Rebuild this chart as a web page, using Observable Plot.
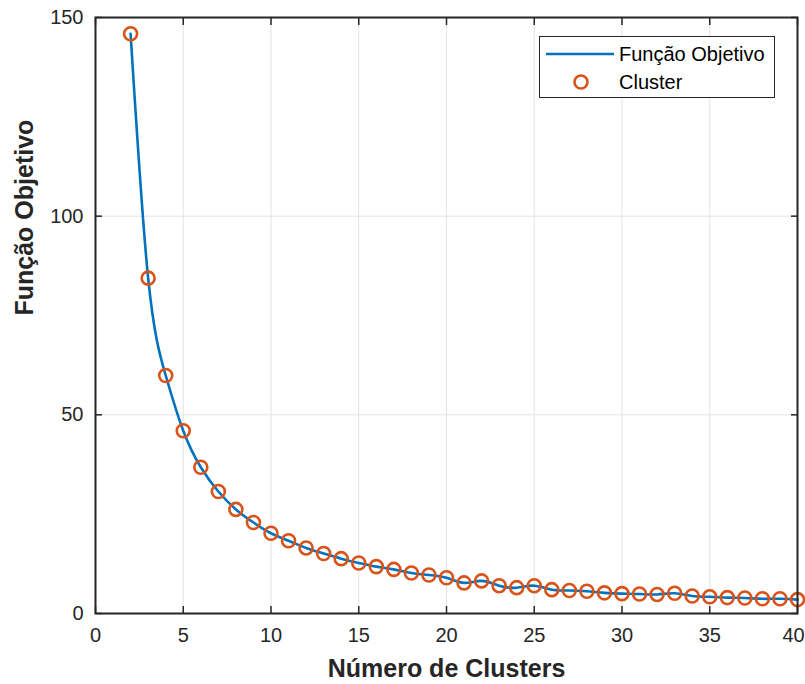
<!DOCTYPE html>
<html>
<head>
<meta charset="utf-8">
<script src="https://cdn.jsdelivr.net/npm/d3@7"></script>
<script src="https://cdn.jsdelivr.net/npm/@observablehq/plot@0.6"></script>
<style>
  body { margin: 0; background: #fff; }
  #wrap { position: relative; width: 805px; height: 684px; font-family: "Liberation Sans", Arial, Helvetica, sans-serif; }
  #legend { position: absolute; left: 539px; top: 36px; width: 234px; height: 60px; border: 1px solid #262626; background: #fff; box-sizing: content-box; }
  #legend .t { position: absolute; left: 79px; font-size: 20px; color: #000; line-height: 20px; white-space: nowrap; }
</style>
</head>
<body>
<div id="wrap"></div>
<script>
const clusters = [2,3,4,5,6,7,8,9,10,11,12,13,14,15,16,17,18,19,20,21,22,23,24,25,26,27,28,29,30,31,32,33,34,35,36,37,38,39,40];
const objective = [145.9,84.4,59.9,46.0,36.8,30.7,26.2,22.9,20.2,18.3,16.5,15.1,13.8,12.7,11.8,11.1,10.2,9.7,9.0,7.7,8.2,7.0,6.5,7.0,6.0,5.8,5.6,5.2,5.0,4.9,4.8,5.1,4.4,4.2,4.0,3.9,3.7,3.7,3.5];
const xTicks = [0,5,10,15,20,25,30,35,40];
const yTicks = [0,50,100,150];
const xLabel = "Número de Clusters";
const yLabel = "Função Objetivo";
const legendLabels = ["Função Objetivo", "Cluster"];

const data = clusters.map((k, i) => ({k, v: objective[i]}));
const ink = "#262626";
const font = "Liberation Sans, Arial, Helvetica, sans-serif";
const lastX = xTicks[xTicks.length - 1];

const chart = Plot.plot({
  width: 805,
  height: 684,
  marginLeft: 95,
  marginRight: 8,
  marginTop: 17,
  marginBottom: 71,
  style: {fontFamily: font, fontSize: "20px", color: ink, background: "#fff"},
  x: {domain: [0, 40]},
  y: {domain: [0, 150]},
  marks: [
    Plot.gridX(xTicks, {stroke: "#e3e3e3", strokeOpacity: 1, strokeWidth: 1}),
    Plot.gridY([50, 100], {stroke: "#e3e3e3", strokeOpacity: 1, strokeWidth: 1}),
    Plot.line(data, {x: "k", y: "v", curve: "natural", stroke: "#0072BD", strokeWidth: 2.6}),
    Plot.dot(data, {x: "k", y: "v", r: 6.5, stroke: "#D95319", strokeWidth: 2.6, fill: "none"}),
    // inward ticks
    Plot.axisX(xTicks, {anchor: "bottom", tickSize: 7, dy: -7, tickFormat: () => "", label: null, stroke: ink, strokeWidth: 1.5}),
    Plot.axisX(xTicks, {anchor: "top", tickSize: 7, dy: 7, tickFormat: () => "", label: null, stroke: ink, strokeWidth: 1.5}),
    Plot.axisY(yTicks, {anchor: "left", tickSize: 7, dx: 7, tickFormat: () => "", label: null, stroke: ink, strokeWidth: 1.5}),
    Plot.axisY(yTicks, {anchor: "right", tickSize: 7, dx: -7, tickFormat: () => "", label: null, stroke: ink, strokeWidth: 1.5}),
    // tick labels
    Plot.axisX(xTicks.filter(t => t !== lastX), {anchor: "bottom", tickSize: 0, tickPadding: 14, label: null, fill: ink, fontSize: 20}),
    Plot.axisX([lastX], {anchor: "bottom", tickSize: 0, tickPadding: 14, dx: -4, label: null, fill: ink, fontSize: 20}),
    Plot.axisY(yTicks, {anchor: "left", tickSize: 0, tickPadding: 12, label: null, fill: ink, fontSize: 20}),
    Plot.frame({stroke: ink, strokeWidth: 2}),
    // axis titles
    Plot.text([xLabel], {frameAnchor: "bottom", dy: 55, text: d => d, fontSize: 25, fontWeight: "bold", fill: ink, lineAnchor: "middle"}),
    Plot.text([yLabel], {frameAnchor: "left", dx: -71, rotate: -90, text: d => d, fontSize: 25, fontWeight: "bold", fill: ink, lineAnchor: "middle"})
  ]
});

const wrap = document.getElementById("wrap");
wrap.appendChild(chart);

const legend = document.createElement("div");
legend.id = "legend";
legend.innerHTML = `
  <svg width="234" height="60" style="position:absolute;left:0;top:0">
    <line x1="6" x2="74" y1="17" y2="17" stroke="#0072BD" stroke-width="2.6"/>
    <circle cx="41" cy="45" r="6.5" fill="none" stroke="#D95319" stroke-width="2.6"/>
  </svg>
  <div class="t" style="top:7px">${legendLabels[0]}</div>
  <div class="t" style="top:35px">${legendLabels[1]}</div>`;
wrap.appendChild(legend);
</script>
</body>
</html>
